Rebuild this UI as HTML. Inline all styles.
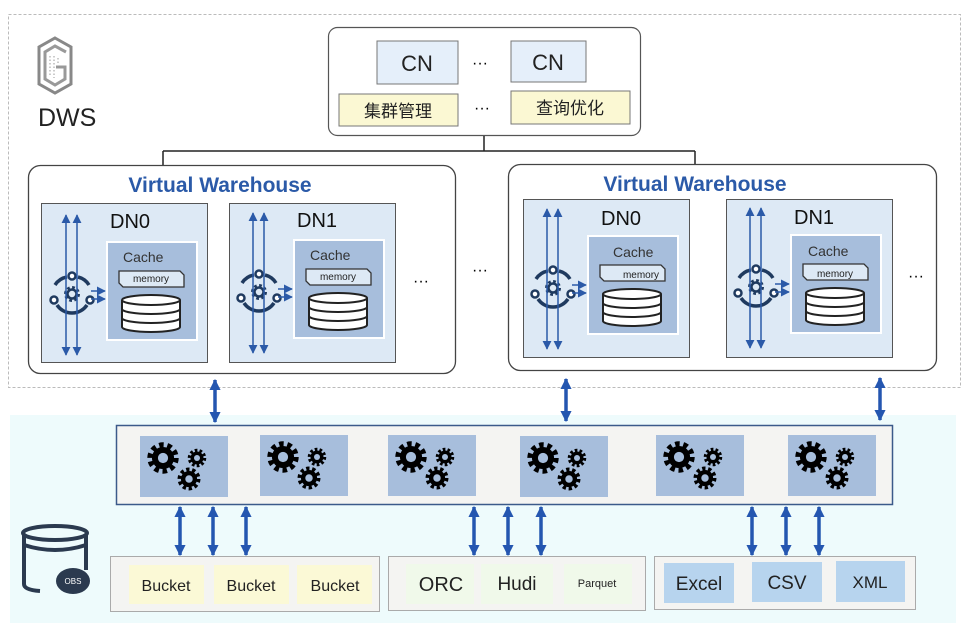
<!DOCTYPE html>
<html><head><meta charset="utf-8"><style>
html,body{margin:0;padding:0;background:#fff}
svg{display:block}
text{font-family:"Liberation Sans","Noto Sans CJK SC",sans-serif}
</style></head><body>
<svg width="968" height="636" viewBox="0 0 968 636" xmlns="http://www.w3.org/2000/svg">
<defs>
<marker id="ah" viewBox="0 0 10 10" refX="9" refY="5" markerWidth="6" markerHeight="6" orient="auto-start-reverse"><path d="M0,0 L10,5 L0,10z" fill="#2b5aa8"/></marker>
<marker id="bh" viewBox="0 0 10 10" refX="9" refY="5" markerWidth="3.2" markerHeight="3.4" orient="auto-start-reverse"><path d="M0,0 L10,5 L0,10z" fill="#2456b0"/></marker>
<g id="gear">
<circle r="15" fill="none" stroke="#000" stroke-width="7" stroke-dasharray="5.2 4.2"/>
<circle r="13" fill="#000"/>
<circle r="6" fill="#a7bedc"/>
</g>
<g id="gears">
<rect width="88" height="61" fill="#a7bedc"/>
<use href="#gear" transform="translate(23,22) scale(0.85)"/>
<use href="#gear" transform="translate(57,22) scale(0.5)"/>
<use href="#gear" transform="translate(49,43) scale(0.62)"/>
</g>
<g id="hub">
<path d="M14,82 A18,18 0 0 1 26,74 M37,74 A18,18 0 0 1 48,82 M46,102 A18,18 0 0 1 16,102" fill="none" stroke="#1f3a5f" stroke-width="3.5"/>
<circle cx="31" cy="73" r="3.5" fill="#fff" stroke="#1f3a5f" stroke-width="2.5"/>
<circle cx="13" cy="97" r="3.5" fill="#fff" stroke="#1f3a5f" stroke-width="2.5"/>
<circle cx="49" cy="97" r="3.5" fill="#fff" stroke="#1f3a5f" stroke-width="2.5"/>
<circle cx="31" cy="91" r="6" fill="none" stroke="#1f3a5f" stroke-width="4" stroke-dasharray="2.5 2.2"/>
<circle cx="31" cy="91" r="4.5" fill="none" stroke="#1f3a5f" stroke-width="2.5"/>
<line x1="25" y1="12" x2="25" y2="152" stroke="#2b5aa8" stroke-width="1.5" marker-start="url(#ah)" marker-end="url(#ah)"/>
<line x1="36" y1="12" x2="36" y2="152" stroke="#2b5aa8" stroke-width="1.5" marker-start="url(#ah)" marker-end="url(#ah)"/>
<line x1="50" y1="88" x2="64" y2="88" stroke="#2b5aa8" stroke-width="1.5" marker-end="url(#ah)"/>
<line x1="50" y1="96" x2="64" y2="96" stroke="#2b5aa8" stroke-width="1.5" marker-end="url(#ah)"/>
<rect x="66" y="39" width="90" height="98" fill="#a7bedc" stroke="#fff" stroke-width="2"/>
<path d="M78,68 H139 L143,72 V84 H82 L78,80Z" fill="#dde9f5" stroke="#333" stroke-width="1.3"/>
<path d="M81,97 A29,5 0 0 1 139,97 V124 A29,5 0 0 1 81,124Z" fill="#fff" stroke="#222" stroke-width="2"/>
<path d="M81,97 A29,5 0 0 0 139,97 M81,106 A29,5 0 0 0 139,106 M81,115 A29,5 0 0 0 139,115" fill="none" stroke="#222" stroke-width="2"/>
</g>
</defs>

<rect x="8.5" y="14.5" width="952" height="373" fill="none" stroke="#bbb" stroke-dasharray="3 2"/>
<rect x="10" y="415" width="946" height="208" fill="#eefbfc"/>

<!-- DWS logo -->
<path d="M55,38 L71,47 V84 L55,93 L39,84 V47Z" fill="none" stroke="#888" stroke-width="3"/>
<path d="M66,52 L55,46 L45,52 V79 L55,85 L65,79 V67 H56" fill="none" stroke="#999" stroke-width="3"/>
<path d="M50,56 V76 M54,56 V78 M58,58 V64" fill="none" stroke="#bbb" stroke-width="1.5" stroke-dasharray="1.5 2"/>
<text x="38" y="126" font-size="25" fill="#222">DWS</text>

<!-- CN box -->
<rect x="328.5" y="27.5" width="312" height="108" rx="9" fill="#fff" stroke="#555" stroke-width="1.2"/>
<rect x="377" y="41" width="81" height="43" fill="#e5effa" stroke="#777"/>
<text x="417" y="71" font-size="22" text-anchor="middle" fill="#222">CN</text>
<text x="480" y="68" font-size="16" text-anchor="middle">···</text>
<rect x="511" y="41" width="75" height="41" fill="#e5effa" stroke="#777"/>
<text x="548" y="70" font-size="22" text-anchor="middle" fill="#222">CN</text>
<rect x="339" y="94" width="119" height="32" fill="#fbf8d3" stroke="#777"/>
<text x="398" y="117" font-size="17" text-anchor="middle" fill="#222">集群管理</text>
<text x="482" y="113" font-size="16" text-anchor="middle">···</text>
<rect x="511" y="91" width="119" height="33" fill="#fbf8d3" stroke="#777"/>
<text x="570" y="114" font-size="17" text-anchor="middle" fill="#222">查询优化</text>

<path d="M484,136 V151 M163,151 H695 M163,151 V165 M695,151 V164" stroke="#222" stroke-width="1.5" fill="none"/>

<!-- VW left -->
<rect x="28.5" y="165.5" width="427" height="208" rx="12" fill="#fff" stroke="#444" stroke-width="1.3"/>
<text x="220" y="192" font-size="21" font-weight="bold" text-anchor="middle" fill="#2b5aa8">Virtual Warehouse</text>
<rect x="41.5" y="203.5" width="166" height="159" fill="#dde9f5" stroke="#555"/>
<use href="#hub" x="41" y="203"/>
<text x="110" y="228" font-size="20" fill="#111">DN0</text>
<text x="123" y="262" font-size="14" fill="#333">Cache</text>
<text x="151" y="282" font-size="10" text-anchor="middle" fill="#222">memory</text>
<rect x="229.5" y="203.5" width="166" height="159" fill="#dde9f5" stroke="#555"/>
<use href="#hub" x="228" y="201"/>
<text x="297" y="227" font-size="20" fill="#111">DN1</text>
<text x="310" y="260" font-size="14" fill="#333">Cache</text>
<text x="338" y="280" font-size="10" text-anchor="middle" fill="#222">memory</text>
<text x="421" y="286" font-size="16" text-anchor="middle">···</text>
<text x="480" y="275" font-size="16" text-anchor="middle">···</text>

<!-- VW right -->
<rect x="508.5" y="164.5" width="428" height="206" rx="12" fill="#fff" stroke="#444" stroke-width="1.3"/>
<text x="695" y="191" font-size="21" font-weight="bold" text-anchor="middle" fill="#2b5aa8">Virtual Warehouse</text>
<rect x="523.5" y="199.5" width="166" height="158" fill="#dde9f5" stroke="#555"/>
<use href="#hub" x="522" y="197"/>
<text x="601" y="225" font-size="20" fill="#111">DN0</text>
<text x="613" y="257" font-size="14" fill="#333">Cache</text>
<text x="641" y="278" font-size="10" text-anchor="middle" fill="#222">memory</text>
<rect x="726.5" y="199.5" width="166" height="158" fill="#dde9f5" stroke="#555"/>
<use href="#hub" x="725" y="196"/>
<text x="794" y="224" font-size="20" fill="#111">DN1</text>
<text x="808" y="256" font-size="14" fill="#333">Cache</text>
<text x="835" y="277" font-size="10" text-anchor="middle" fill="#222">memory</text>
<text x="916" y="281" font-size="16" text-anchor="middle">···</text>

<!-- vertical arrows top -->
<g stroke="#2456b0" stroke-width="3.5" marker-start="url(#bh)" marker-end="url(#bh)">
<line x1="215" y1="380" x2="215" y2="422"/>
<line x1="566" y1="379" x2="566" y2="421"/>
<line x1="880" y1="378" x2="880" y2="420"/>
</g>

<!-- middle bar -->
<rect x="116.5" y="425.5" width="776" height="79" fill="#f4f4f2" stroke="#3b5a8a" stroke-width="1.5"/>
<use href="#gears" x="140" y="436"/>
<use href="#gears" x="260" y="435"/>
<use href="#gears" x="388" y="435"/>
<use href="#gears" x="520" y="436"/>
<use href="#gears" x="656" y="435"/>
<use href="#gears" x="788" y="435"/>

<g stroke="#2456b0" stroke-width="3.5" marker-start="url(#bh)" marker-end="url(#bh)">
<line x1="180" y1="507" x2="180" y2="555"/>
<line x1="213" y1="507" x2="213" y2="555"/>
<line x1="246" y1="507" x2="246" y2="555"/>
<line x1="474" y1="507" x2="474" y2="555"/>
<line x1="508" y1="507" x2="508" y2="555"/>
<line x1="541" y1="507" x2="541" y2="555"/>
<line x1="752" y1="507" x2="752" y2="555"/>
<line x1="786" y1="507" x2="786" y2="555"/>
<line x1="819" y1="507" x2="819" y2="555"/>
</g>

<!-- OBS -->
<path d="M24,533 V584 Q24,590 40,591 M86,533 V570" fill="none" stroke="#2b3a4f" stroke-width="4"/>
<ellipse cx="55" cy="533" rx="32" ry="7" fill="#eefbfc" stroke="#2b3a4f" stroke-width="4"/>
<path d="M24,545 Q55,555 86,545" fill="none" stroke="#2b3a4f" stroke-width="4"/>
<ellipse cx="73" cy="581" rx="17" ry="13" fill="#2b3a4f"/>
<text x="73" y="584" font-size="8" font-family="Liberation Serif" fill="#fff" text-anchor="middle">OBS</text>

<!-- bottom groups -->
<rect x="110.5" y="556.5" width="269" height="55" fill="#f4f4f2" stroke="#aaa"/>
<rect x="129" y="565" width="75" height="39" fill="#fbf9d6"/>
<rect x="214" y="565" width="75" height="39" fill="#fbf9d6"/>
<rect x="297" y="565" width="75" height="39" fill="#fbf9d6"/>
<text x="166" y="591" font-size="16" text-anchor="middle" fill="#222">Bucket</text>
<text x="251" y="591" font-size="16" text-anchor="middle" fill="#222">Bucket</text>
<text x="335" y="591" font-size="16" text-anchor="middle" fill="#222">Bucket</text>

<rect x="388.5" y="556.5" width="257" height="54" fill="#f4f4f2" stroke="#aaa"/>
<rect x="406" y="564" width="68" height="40" fill="#f0f9ea"/>
<rect x="481" y="564" width="72" height="40" fill="#f0f9ea"/>
<rect x="564" y="564" width="68" height="40" fill="#f0f9ea"/>
<text x="441" y="591" font-size="20" text-anchor="middle" fill="#222">ORC</text>
<text x="517" y="590" font-size="19" text-anchor="middle" fill="#222">Hudi</text>
<text x="597" y="587" font-size="11" text-anchor="middle" fill="#222">Parquet</text>

<rect x="654.5" y="556.5" width="261" height="53" fill="#f4f4f2" stroke="#aaa"/>
<rect x="664" y="563" width="70" height="40" fill="#b7d4ee"/>
<rect x="752" y="562" width="70" height="40" fill="#b7d4ee"/>
<rect x="836" y="561" width="69" height="41" fill="#b7d4ee"/>
<text x="699" y="590" font-size="19" text-anchor="middle" fill="#222">Excel</text>
<text x="787" y="589" font-size="19" text-anchor="middle" fill="#222">CSV</text>
<text x="870" y="588" font-size="17" text-anchor="middle" fill="#222">XML</text>
</svg>
</body></html>
